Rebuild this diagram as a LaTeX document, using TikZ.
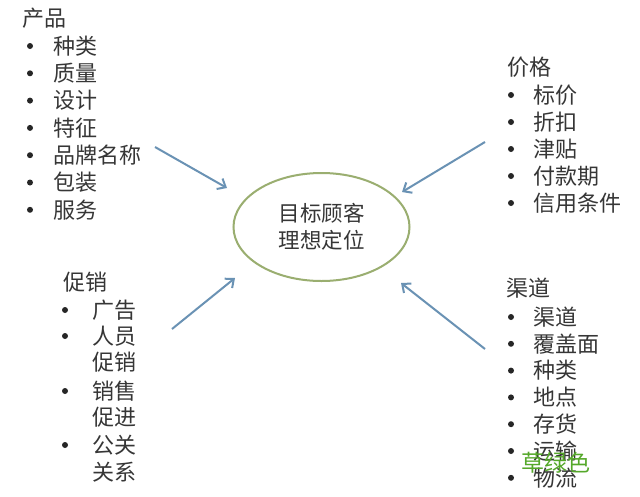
\documentclass[tikz,border=0pt]{standalone}
\usepackage{fontspec}
\setmainfont{Noto Sans CJK SC}
\usetikzlibrary{arrows.meta,shapes.geometric}
\definecolor{txt}{HTML}{363636}
\definecolor{arrowc}{HTML}{6A92B4}
\definecolor{ellc}{HTML}{9AAE70}
\definecolor{wm}{HTML}{55A82A}
\tikzset{
  lbl/.style={anchor=west, inner sep=0pt, text=txt, font=\fontsize{22}{25}\selectfont},
  bul/.style={circle, fill=black!85, inner sep=0pt, minimum size=6pt},
  arr/.style={draw=arrowc, line width=2pt, -{Straight Barb[length=7pt,width=12pt,line width=2pt]}},
}
\begin{document}
\begin{tikzpicture}[x=1pt,y=-1pt]
\useasboundingbox (0,0) rectangle (640,496);
\fill[white] (0,0) rectangle (640,496);
% product
\node[lbl] (p0) at (22,18) {产品};
\foreach \t [count=\i] in {种类,质量,设计,特征,品牌名称,包装,服务}{
  \node[bul] (pb\i) at (30,{46+27.3*(\i-1)}) {};
  \node[lbl] (p\i) at (53,{46+27.3*(\i-1)}) {\t};
}
% price
\node[lbl] (q0) at (507,67) {价格};
\foreach \t [count=\i] in {标价,折扣,津贴,付款期,信用条件}{
  \node[bul] (qb\i) at (511,{95+27*(\i-1)}) {};
  \node[lbl] (q\i) at (533,{95+27*(\i-1)}) {\t};
}
% promotion
\node[lbl] (r0) at (63,282) {促销};
\node[bul] (rb1) at (65,310) {};
\node[lbl] (r1) at (92,310) {广告};
\node[bul] (rb2) at (65,336) {};
\node[lbl] (r2) at (92,336) {人员};
\node[lbl] (r2b) at (92,362) {促销};
\node[bul] (rb3) at (65,391) {};
\node[lbl] (r3) at (92,391) {销售};
\node[lbl] (r3b) at (92,417) {促进};
\node[bul] (rb4) at (65,445) {};
\node[lbl] (r4) at (92,445) {公关};
\node[lbl] (r4b) at (92,472) {关系};
% channel
\node[lbl] (s0) at (506,288) {渠道};
\foreach \t [count=\i] in {渠道,覆盖面,种类,地点,存货,运输,物流}{
  \node[bul] (sb\i) at (511,{317+26.8*(\i-1)}) {};
  \node[lbl] (s\i) at (533,{317+26.8*(\i-1)}) {\t};
}
% center
\node[draw=ellc, line width=2pt, ellipse, minimum width=176pt, minimum height=108pt, inner sep=0pt,
      text=txt, font=\fontsize{21.5}{27}\selectfont, align=center] (c) at (321.5,227) {目标顾客\\理想定位};
% watermark
\node[inner sep=0pt, text=wm, font=\fontsize{23}{25}\selectfont] (w) at (556,463) {草绿色};
% arrows
\coordinate (a1s) at (155,147); \coordinate (a1e) at (227,188);
\coordinate (a2s) at (485,142); \coordinate (a2e) at (402,192);
\coordinate (a3s) at (172,329); \coordinate (a3e) at (235,278);
\coordinate (a4s) at (485,349); \coordinate (a4e) at (401,283);
\draw[arr] (a1s) -- (a1e);
\draw[arr] (a2s) -- (a2e);
\draw[arr] (a3s) -- (a3e);
\draw[arr] (a4s) -- (a4e);
\end{tikzpicture}
\end{document}
